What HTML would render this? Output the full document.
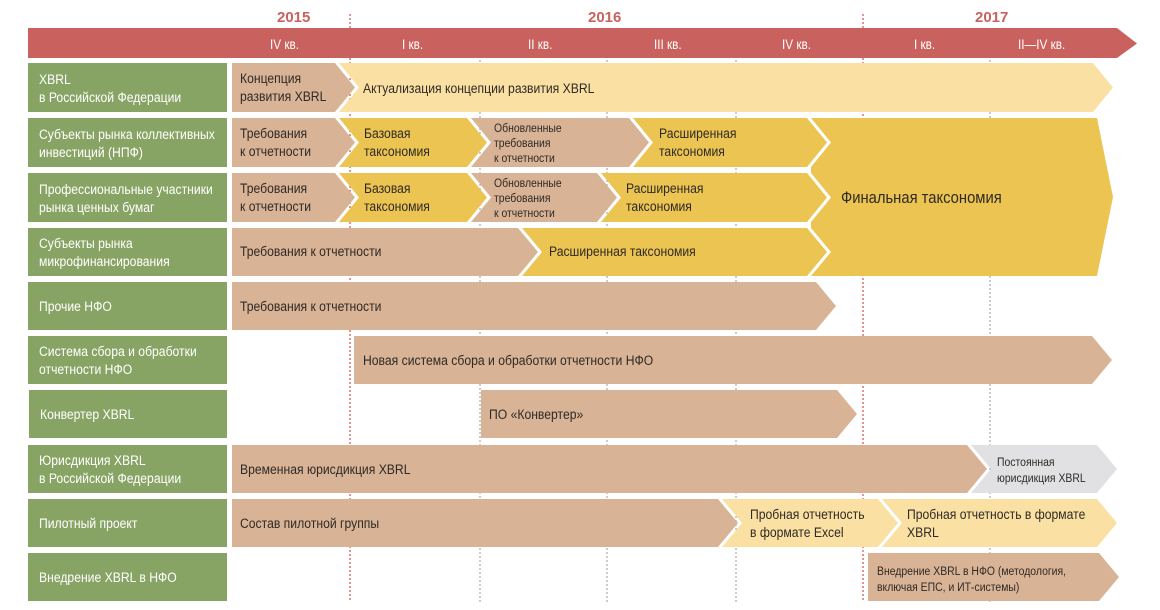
<!DOCTYPE html>
<html><head><meta charset="utf-8"><style>
html,body{margin:0;padding:0;background:#fff;}
svg{display:block;}
text{font-family:"Liberation Sans",sans-serif;font-size:14px;fill:#2f2a26;transform-box:fill-box;transform-origin:0 0;transform:scaleX(0.87);}
.w{fill:#fff;}
.s{font-size:12px;}
.h{fill:#c9615e;font-weight:bold;font-size:15px;transform:none;}
.q{fill:#fff;font-size:13.5px;}
.b{fill:#d8b396;} .y{fill:#ebc452;} .l{fill:#fae0a3;} .g{fill:#e1e1e3;} .gr{fill:#88a465;}
</style></head><body>
<svg width="1160" height="610" viewBox="0 0 1160 610" xmlns="http://www.w3.org/2000/svg">
<g stroke-width="1.2" stroke-dasharray="2,2">
<line x1="350" y1="14" x2="350" y2="602" stroke="#d0504a"/>
<line x1="863" y1="14" x2="863" y2="602" stroke="#d0504a"/>
<line x1="480" y1="60" x2="480" y2="602" stroke="#aaa"/>
<line x1="607" y1="60" x2="607" y2="602" stroke="#aaa"/>
<line x1="736" y1="60" x2="736" y2="602" stroke="#aaa"/>
<line x1="990" y1="60" x2="990" y2="602" stroke="#aaa"/>
</g>
<polygon points="28,28 1117,28 1137,43.5 1117,58 28,58" fill="#c9615e"/>
<text class="h" x="277" y="22">2015</text>
<text class="h" x="588" y="22">2016</text>
<text class="h" x="975" y="22">2017</text>
<text class="q" x="270" y="49">IV кв.</text>
<text class="q" x="402" y="49">I кв.</text>
<text class="q" x="528" y="49">II кв.</text>
<text class="q" x="654" y="49">III кв.</text>
<text class="q" x="782" y="49">IV кв.</text>
<text class="q" x="914" y="49">I кв.</text>
<text class="q" x="1018" y="49">II—IV кв.</text>

<rect class="gr" x="28" y="63" width="199" height="49"/>
<rect class="gr" x="28" y="118" width="199" height="49"/>
<rect class="gr" x="28" y="173" width="199" height="49"/>
<rect class="gr" x="28" y="228" width="199" height="48"/>
<rect class="gr" x="28" y="282" width="199" height="48"/>
<rect class="gr" x="28" y="336" width="199" height="48"/>
<rect class="gr" x="29" y="390" width="198" height="48"/>
<rect class="gr" x="28" y="445" width="199" height="48"/>
<rect class="gr" x="28" y="499" width="199" height="48"/>
<rect class="gr" x="28" y="553" width="199" height="48"/>
<text class="w" x="39" y="84">XBRL</text><text class="w" x="39" y="102">в Российской Федерации</text>
<text class="w" x="39" y="139">Субъекты рынка коллективных</text><text class="w" x="39" y="157">инвестиций (НПФ)</text>
<text class="w" x="39" y="194">Профессиональные участники</text><text class="w" x="39" y="212">рынка ценных бумаг</text>
<text class="w" x="39" y="248">Субъекты рынка</text><text class="w" x="39" y="266">микрофинансирования</text>
<text class="w" x="39" y="311">Прочие НФО</text>
<text class="w" x="39" y="356">Система сбора и обработки</text><text class="w" x="39" y="374">отчетности НФО</text>
<text class="w" x="40" y="419">Конвертер XBRL</text>
<text class="w" x="39" y="465">Юрисдикция XBRL</text><text class="w" x="39" y="483">в Российской Федерации</text>
<text class="w" x="39" y="528">Пилотный проект</text>
<text class="w" x="39" y="582">Внедрение XBRL в НФО</text>

<polygon class="b" points="232,63 335,63 355,87.5 335,112 232,112"/>
<polygon class="l" points="339,63 1093,63 1113,87.5 1093,112 339,112 359,87.5"/>
<text x="240" y="83">Концепция</text><text x="240" y="101">развития XBRL</text>
<text x="363" y="93">Актуализация концепции развития XBRL</text>

<polygon class="b" points="232,118 335,118 355,142.5 335,167 232,167"/>
<polygon class="y" points="339,118 467,118 487,142.5 467,167 339,167 359,142.5"/>
<polygon class="b" points="471,118 629,118 649,142.5 629,167 471,167 491,142.5"/>
<polygon class="y" points="633,118 807,118 827,142.5 807,167 633,167 653,142.5"/>
<text x="240" y="138">Требования</text><text x="240" y="156">к отчетности</text>
<text x="364" y="138">Базовая</text><text x="364" y="156">таксономия</text>
<text class="s" x="494" y="132">Обновленные</text><text class="s" x="494" y="147">требования</text><text class="s" x="494" y="162">к отчетности</text>
<text x="659" y="138">Расширенная</text><text x="659" y="156">таксономия</text>

<polygon class="b" points="232,173 335,173 355,197.5 335,222 232,222"/>
<polygon class="y" points="339,173 467,173 487,197.5 467,222 339,222 359,197.5"/>
<polygon class="b" points="471,173 597,173 617,197.5 597,222 471,222 491,197.5"/>
<polygon class="y" points="601,173 807,173 827,197.5 807,222 601,222 621,197.5"/>
<text x="240" y="193">Требования</text><text x="240" y="211">к отчетности</text>
<text x="364" y="193">Базовая</text><text x="364" y="211">таксономия</text>
<text class="s" x="494" y="187">Обновленные</text><text class="s" x="494" y="202">требования</text><text class="s" x="494" y="217">к отчетности</text>
<text x="626" y="193">Расширенная</text><text x="626" y="211">таксономия</text>

<polygon class="b" points="232,228 518,228 538,252 518,276 232,276"/>
<polygon class="y" points="522,228 807,228 827,252 807,276 522,276 542,252"/>
<text x="240" y="256">Требования к отчетности</text>
<text x="549" y="256">Расширенная таксономия</text>

<polygon class="y" points="811,118 1097,118 1113,197 1097,276 811,276 831,252 811,228 811,222 831,197.5 811,173 811,167 831,142.5"/>
<text x="841" y="203" style="font-size:17px">Финальная таксономия</text>

<polygon class="b" points="232,282 816,282 836,306 816,330 232,330"/>
<text x="240" y="311">Требования к отчетности</text>

<polygon class="b" points="354,336 1092,336 1112,360 1092,384 354,384"/>
<text x="363" y="365">Новая система сбора и обработки отчетности НФО</text>

<polygon class="b" points="481,390 837,390 857,414 837,438 481,438"/>
<text x="489" y="419">ПО «Конвертер»</text>

<polygon class="b" points="232,445 967,445 987,469 967,493 232,493"/>
<polygon class="g" points="971,445 1097,445 1117,469 1097,493 971,493 991,469"/>
<text x="240" y="474">Временная юрисдикция XBRL</text>
<text class="s" x="997" y="466">Постоянная</text><text class="s" x="997" y="482">юрисдикция XBRL</text>

<polygon class="b" points="232,499 718,499 738,523 718,547 232,547"/>
<polygon class="l" points="722,499 878,499 898,523 878,547 722,547 742,523"/>
<polygon class="l" points="882,499 1097,499 1117,523 1097,547 882,547 902,523"/>
<text x="240" y="528">Состав пилотной группы</text>
<text x="750" y="519">Пробная отчетность</text><text x="750" y="537">в формате Excel</text>
<text x="907" y="519">Пробная отчетность в формате</text><text x="907" y="537">XBRL</text>

<polygon class="b" points="868,553 1099,553 1119,577 1099,601 868,601"/>
<text class="s" x="877" y="575">Внедрение XBRL в НФО (методология,</text><text class="s" x="877" y="591">включая ЕПС, и ИТ-системы)</text>
</svg>
</body></html>
